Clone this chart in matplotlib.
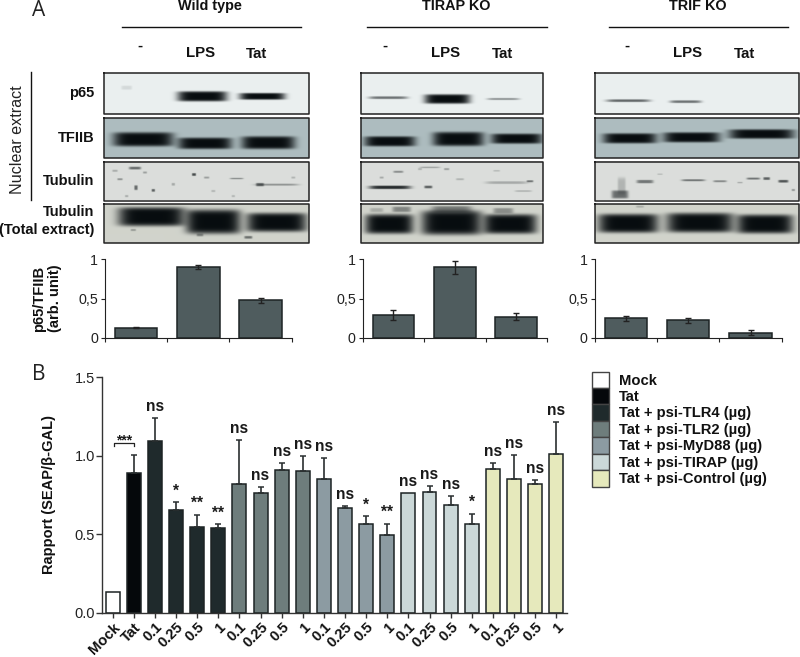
import numpy as np
import matplotlib
matplotlib.use("Agg")
import matplotlib.pyplot as plt
from matplotlib.patches import Patch

plt.rcParams['font.family'] = ['Liberation Sans', 'DejaVu Sans']

# ---------- data: panel A quantification ----------
conditions = ['-', 'LPS', 'Tat']
wt_vals = [0.128, 0.906, 0.477]
wt_errs = [0.006, 0.026, 0.032]
tirap_vals = [0.29, 0.898, 0.27]
tirap_errs = [0.06, 0.085, 0.05]
trif_vals = [0.245, 0.22, 0.064]
trif_errs = [0.035, 0.03, 0.03]
small_yticks = [0, 0.5, 1]
small_yticklabels = ['0', '0,5', '1']

# ---------- data: panel B ----------
b_labels = ['Mock', 'Tat', '0.1', '0.25', '0.5', '1', '0.1', '0.25', '0.5', '1',
            '0.1', '0.25', '0.5', '1', '0.1', '0.25', '0.5', '1', '0.1', '0.25', '0.5', '1']
b_vals = [0.13, 0.892, 1.096, 0.652, 0.544, 0.54, 0.818, 0.76, 0.909, 0.90,
          0.854, 0.665, 0.567, 0.497, 0.76, 0.771, 0.684, 0.567, 0.913, 0.85, 0.818, 1.009]
b_tops = [0.13, 1.003, 1.24, 0.703, 0.622, 0.563, 1.10, 0.803, 0.954, 1.0,
          0.986, 0.682, 0.614, 0.565, 0.76, 0.805, 0.746, 0.631, 0.952, 1.007, 0.848, 1.213]
b_sig = ['', '', 'ns', '*', '**', '**', 'ns', 'ns', 'ns', 'ns',
         'ns', 'ns', '*', '**', 'ns', 'ns', 'ns', '*', 'ns', 'ns', 'ns', 'ns']
b_groups = [0, 1, 2, 2, 2, 2, 3, 3, 3, 3, 4, 4, 4, 4, 5, 5, 5, 5, 6, 6, 6, 6]
group_names = ['Mock', 'Tat', 'Tat + psi-TLR4 (µg)', 'Tat + psi-TLR2 (µg)', 'Tat + psi-MyD88 (µg)',
               'Tat + psi-TIRAP (µg)', 'Tat + psi-Control (µg)']
group_colors = ['#ffffff', '#05080b', '#1f2a2c', '#6e7d7c', '#8c9ba2', '#cbd8d8', '#e6e9bc']

# ---------- blot sketch: (x, y, half-width, half-height, density) in reference 3x-zoom pixels ----------
blot_wt = {
    'p65': [(607, 289, 74, 15, 1), (787, 289, 68, 10, 1), (380, 263, 16, 6, .10)],
    'tf': [(430, 418, 90, 21, 1), (615, 430, 80, 17, 1), (805, 428, 80, 19, 1)],
    'tub': [(830, 556, 65, 3, .35), (780, 556, 12, 5, .55), (405, 507, 18, 4, .55), (360, 540, 8, 3, .35),
            (408, 565, 5, 7, .55), (460, 573, 5, 4, .6), (582, 526, 6, 4, .7), (620, 535, 8, 3, .3),
            (710, 538, 20, 2, .4), (345, 515, 8, 3, .25), (435, 520, 6, 3, .3), (520, 555, 5, 4, .25),
            (640, 575, 6, 3, .2), (700, 590, 5, 3, .2), (880, 535, 6, 3, .2), (380, 590, 5, 3, .25)],
    'tot': [(455, 650, 100, 28, 1), (640, 665, 82, 36, 1), (830, 667, 90, 28, 1),
            (745, 712, 12, 4, .5), (400, 690, 8, 3, .3), (600, 705, 10, 4, .35)],
}
blot_tirap = {
    'p65': [(145, 293, 58, 4, .55), (322, 297, 68, 14, 1), (490, 297, 48, 3, .42)],
    'tf': [(150, 424, 76, 15, 1), (355, 417, 76, 21, 1), (530, 416, 76, 15, 1)],
    'tub': [(150, 564, 62, 5, .85), (265, 563, 12, 4, .6), (500, 550, 62, 4, .25), (175, 518, 15, 3, .4),
            (270, 505, 30, 2, .3), (320, 510, 8, 3, .3), (570, 546, 10, 3, .5), (550, 575, 25, 2, .25),
            (125, 535, 6, 3, .25), (360, 540, 12, 3, .2), (240, 510, 6, 3, .2), (470, 515, 10, 2, .2)],
    'tot': [(148, 672, 72, 29, 1), (335, 668, 90, 36, 1), (510, 672, 80, 29, 1),
            (185, 628, 28, 8, .4), (335, 628, 60, 10, .45), (490, 632, 30, 8, .35), (110, 630, 20, 6, .2)],
}
blot_trif = {
    'p65': [(865, 302, 65, 4, .6), (1037, 305, 47, 4, .55)],
    'tf': [(870, 415, 80, 15, 1), (1055, 412, 84, 15, 1), (1265, 402, 97, 14, 1)],
    'tub': [(840, 585, 25, 12, .55), (845, 560, 12, 25, .2), (915, 547, 25, 5, .5), (1060, 543, 35, 3, .5),
            (1140, 546, 20, 3, .4), (1240, 538, 20, 3, .5), (1280, 538, 10, 4, .6), (1330, 546, 15, 4, .65),
            (960, 525, 8, 2, .2), (1200, 550, 8, 2, .25), (1360, 572, 5, 3, .35)],
    'tot': [(865, 670, 90, 28, 1), (1080, 668, 100, 29, 1), (1275, 672, 84, 28, 1), (900, 620, 12, 3, .2)],
}
blot_bg = {'p65': (0.92, 0.94, 0.94), 'tf': (0.68, 0.74, 0.75), 'tub': (0.86, 0.87, 0.86), 'tot': (0.82, 0.83, 0.80)}
row_edges = {'p65': (73, 114), 'tf': (118, 158), 'tub': (162, 200.5), 'tot': (204, 243)}
panel_x = [((104, 309), 0, blot_wt), ((361, 543), 340, blot_tirap), ((595, 799), 340, blot_trif)]

W, H = 800, 657
fig = plt.figure(figsize=(W / 100, H / 100), dpi=100, facecolor='white')


def px_axes(x0, y0, x1, y1, **kw):
    return fig.add_axes([x0 / W, 1 - y1 / H, (x1 - x0) / W, (y1 - y0) / H], **kw)


over = fig.add_axes([0, 0, 1, 1], zorder=0)
ink = np.array([0.03, 0.05, 0.06])
for (x0, x1), xoff, bands in panel_x:
    for key, (y0, y1) in row_edges.items():
        xs = np.arange(x0, x1, 0.5) + 0.25
        ys = np.arange(y0, y1, 0.5) + 0.25
        X, Y = np.meshgrid(xs, ys)
        clear = np.ones_like(X)
        for bx, by, hw, hh, d in bands[key]:
            cx, cy = xoff + bx / 3, by / 3
            clear *= 1 - d * np.exp(-((X - cx) / (hw / 3)) ** 6 - ((Y - cy) / (hh / 3)) ** 6)
        img = np.array(blot_bg[key])[None, None, :] * clear[..., None] + ink[None, None, :] * (1 - clear[..., None])
        over.imshow(img, extent=(x0, x1, y1, y0), aspect='auto', interpolation='bilinear')
        over.plot([x0, x1, x1, x0, x0], [y0, y0, y1, y1, y0], color='#222222', lw=1.1)
over.set_xlim(0, W)
over.set_ylim(H, 0)
over.axis('off')

# headers
bold = dict(fontweight='bold', color='#111111')
for name, cx, lx0, lx1 in [('Wild type', 210, 122, 301), ('TIRAP KO', 456, 367, 547), ('TRIF KO', 698, 609, 788)]:
    over.text(cx, 6, name, ha='center', va='center', fontsize=10.4, **bold)
    over.plot([lx0, lx1], [26.5, 26.5], color='#111111', lw=1)
for xs in [(140, 201, 257), (385, 446, 503), (627, 688, 745)]:
    over.text(xs[0], 46, conditions[0], ha='center', va='center', fontsize=11, **bold)
    over.text(xs[1], 53, conditions[1], ha='center', va='center', fontsize=10.8, **bold)
    over.text(xs[2], 54, conditions[2], ha='center', va='center', fontsize=10.8, **bold)
for s, y in [('p65', 93), ('TFIIB', 138), ('Tubulin', 181), ('Tubulin', 212), ('(Total extract)', 230)]:
    over.text(94, y, s, ha='right', va='center', fontsize=10.5, **bold)
over.text(18, 140, 'Nuclear extract', rotation=90, ha='center', va='center', fontsize=11.6, color='#222222')
over.plot([31, 31], [72, 200], color='#111111', lw=1)
over.text(39, 11, 'A', ha='center', va='center', fontsize=15, family='Open Sans', color='#222222')
over.text(39, 375, 'B', ha='center', va='center', fontsize=15, family='Open Sans', color='#222222')

# small bar charts
small = [(105, 291.7, wt_vals, wt_errs), (362.7, 547, tirap_vals, tirap_errs), (594.7, 781.7, trif_vals, trif_errs)]
for i, (x0, x1, vals, errs) in enumerate(small):
    ax = px_axes(x0, 259.3, x1, 337.7, zorder=2)
    ax.patch.set_alpha(0)
    pos = np.arange(3)
    ax.bar(pos, vals, width=0.68, color='#4f5c5e', edgecolor='#1d2324', linewidth=1.1)
    ax.errorbar(pos, vals, yerr=errs, fmt='none', ecolor='#222222', elinewidth=1, capsize=2, capthick=1)
    ax.set_xlim(-0.5, 2.5)
    ax.set_ylim(0, 1)
    ax.set_xticks([-0.5, 0.5, 1.5, 2.5])
    ax.set_xticklabels([])
    ax.set_yticks(small_yticks)
    ax.set_yticklabels(small_yticklabels, fontsize=10.3, color='#222222')
    ax.tick_params(length=3, width=0.8, color='#222222', pad=2)
    for s in ['top', 'right']:
        ax.spines[s].set_visible(False)
    for s in ['left', 'bottom']:
        ax.spines[s].set_linewidth(0.8)
        ax.spines[s].set_color('#222222')
    if i == 0:
        ax.set_ylabel('p65/TFIIB\n(arb. unit)', fontsize=10.6, fontweight='bold', color='#111111', linespacing=1.15)
        ax.yaxis.set_label_coords((62 - x0) / (x1 - x0), 0.5)

# panel B
axb = px_axes(102.5, 377.3, 567, 612.7, zorder=2)
axb.patch.set_alpha(0)
x = np.arange(len(b_vals))
axb.bar(x, b_vals, width=0.66, color=[group_colors[g] for g in b_groups], edgecolor='#1d2324', linewidth=1.1)
b_errs = np.array(b_tops) - np.array(b_vals)
keep = b_errs > 0
axb.errorbar(x[keep], np.array(b_vals)[keep], yerr=[np.zeros(keep.sum()), b_errs[keep]], fmt='none',
             ecolor='#2a2f30', elinewidth=1.2, capsize=2.4, capthick=1.1)
for xi, top, s in zip(x, b_tops, b_sig):
    if s:
        axb.annotate(s, (xi, top), xytext=(0, 5), textcoords='offset points', ha='center', va='baseline',
                     fontsize=11.2, fontweight='bold', color='#1a1a1a')
axb.plot([0.05, 0.05, 1, 1], [1.06, 1.08, 1.08, 1.06], color='#222222', lw=0.9)
axb.annotate('***', (0.52, 1.08), xytext=(0, -1), textcoords='offset points', ha='center', va='baseline',
             fontsize=10, fontweight='bold', color='#1a1a1a')
axb.set_xlim(-0.483, 21.51)
axb.set_ylim(0, 1.5)
axb.set_yticks([0, 0.5, 1.0, 1.5])
axb.set_yticklabels(['0.0', '0.5', '1.0', '1.5'], fontsize=10.5, color='#222222')
axb.set_xticks(x)
axb.set_xticklabels(b_labels, rotation=45, ha='right', rotation_mode='anchor', fontsize=10.6, fontweight='bold', color='#111111')
axb.tick_params(axis='y', length=4, width=1, color='#333333', pad=1.5)
axb.tick_params(axis='x', length=3.4, width=1, color='#333333', pad=2)
for s in ['top', 'right']:
    axb.spines[s].set_visible(False)
for s in ['left', 'bottom']:
    axb.spines[s].set_linewidth(1)
    axb.spines[s].set_color('#333333')
axb.set_ylabel('Rapport (SEAP/β-GAL)', fontsize=10.5, fontweight='bold', color='#111111')
axb.yaxis.set_label_coords((56 - 102.5) / 464.5, (612.7 - 494) / 235.4)

handles = [Patch(facecolor=c, edgecolor='#444444', linewidth=1) for c in group_colors]
leg = fig.legend(handles, group_names, loc='upper left', bbox_to_anchor=(592 / W, 1 - 371.5 / H),
                 frameon=False, labelspacing=0, handlelength=1.13, handleheight=1.34,
                 handletextpad=0.68, borderpad=0, borderaxespad=0, prop={'weight': 'bold', 'size': 10.6})
for t in leg.get_texts():
    t.set_color('#111111')

fig.savefig('out.png', dpi=100)
